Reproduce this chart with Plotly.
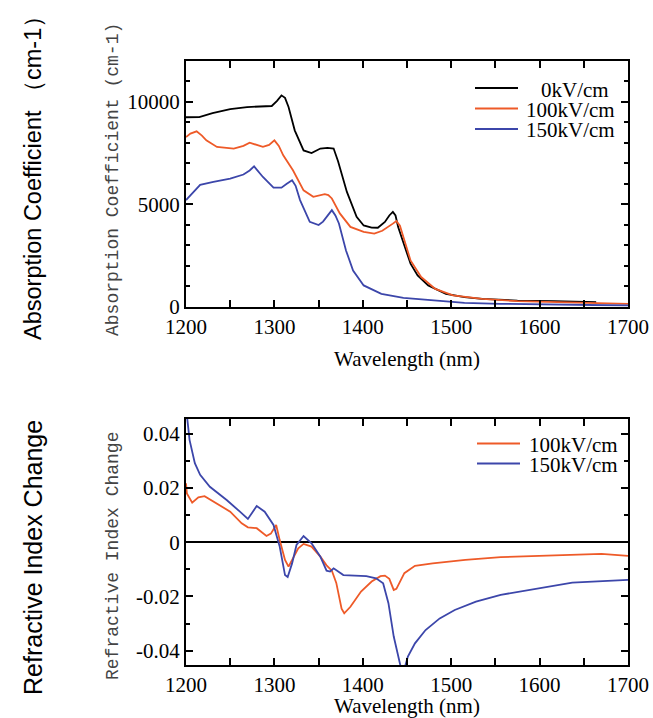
import plotly.graph_objects as go

# ---------------- data ----------------
series_names = ["0kV/cm", "100kV/cm", "150kV/cm"]
series_colors = ["#000000", "#EE5A28", "#3C46AA"]

# Absorption coefficient (cm-1)
wl_abs_0 = [1200, 1215, 1230, 1250, 1269, 1285, 1297, 1303, 1308, 1312, 1316, 1323, 1333,
            1342, 1352, 1360, 1367, 1372, 1382, 1393, 1401, 1410, 1417, 1425, 1430, 1434,
            1437, 1440, 1446, 1454, 1462, 1474, 1494, 1515, 1535, 1575, 1616, 1664]
abs_0 = [9250, 9260, 9450, 9650, 9750, 9780, 9800, 10050, 10320, 10200, 9750, 8610, 7630,
         7500, 7720, 7750, 7720, 7100, 5600, 4380, 3960, 3860, 3850, 4130, 4450, 4620,
         4450, 3880, 3150, 2090, 1520, 1030, 620, 460, 375, 290, 260, 210]

wl_abs_100 = [1200, 1205, 1212, 1218, 1223, 1235, 1254, 1265, 1272, 1280, 1287, 1294, 1300,
              1305, 1310, 1321, 1333, 1344, 1351, 1357, 1361, 1365, 1374, 1386, 1401, 1413,
              1422, 1429, 1434, 1438, 1442, 1446, 1454, 1466, 1482, 1502, 1535, 1575, 1616,
              1660, 1700]
abs_100 = [8280, 8450, 8560, 8350, 8120, 7800, 7720, 7850, 8010, 7900, 7800, 7900, 8120,
           7850, 7390, 6660, 5680, 5360, 5450, 5490, 5450, 5280, 4550, 3890, 3650, 3560,
           3700, 3880, 4050, 4180, 3950, 3390, 2250, 1440, 860, 540, 375, 260, 210, 170, 130]

wl_abs_150 = [1200, 1208, 1216, 1231, 1250, 1265, 1272, 1277, 1282, 1287, 1299, 1308, 1314,
              1320, 1324, 1329, 1340, 1350, 1355, 1359, 1365, 1369, 1373, 1381, 1389, 1401,
              1421, 1446, 1474, 1494, 1515, 1555, 1616, 1700]
abs_150 = [5200, 5550, 5950, 6090, 6250, 6450, 6650, 6850, 6600, 6330, 5810, 5810, 6000,
           6170, 5900, 5200, 4140, 3980, 4150, 4380, 4710, 4450, 4060, 2740, 1760, 1030,
           620, 420, 330, 260, 180, 130, 100, 50]

# Refractive index change
wl_ri_100 = [1200, 1201, 1207, 1214, 1221, 1231, 1250, 1263, 1270, 1280, 1291, 1296, 1302,
             1306, 1312, 1316, 1321, 1327, 1333, 1342, 1352, 1359, 1365, 1370, 1376, 1379,
             1386, 1398, 1410, 1420, 1425, 1430, 1435, 1438, 1447, 1459, 1479, 1516, 1556,
             1617, 1670, 1700]
ri_100 = [0.0218, 0.0180, 0.0146, 0.0166, 0.0170, 0.0150, 0.0113, 0.0070, 0.0055, 0.0052,
          0.0023, 0.0032, 0.0064, 0.0008, -0.0065, -0.0090, -0.0059, -0.0022, -0.0006,
          -0.0016, -0.0053, -0.0085, -0.0105, -0.0150, -0.0245, -0.0262, -0.0238, -0.0182,
          -0.0145, -0.0125, -0.0123, -0.0135, -0.0176, -0.0172, -0.0114, -0.0087, -0.0078,
          -0.0065, -0.0055, -0.0049, -0.0043, -0.0050]

wl_ri_150 = [1200, 1204, 1210, 1216, 1227, 1246, 1261, 1270, 1275, 1280, 1289, 1299, 1306,
             1312, 1315, 1320, 1325, 1333, 1342, 1352, 1359, 1363, 1367, 1378, 1404, 1415,
             1423, 1429, 1435, 1441, 1445, 1451, 1459, 1471, 1487, 1504, 1528, 1556, 1597,
             1637, 1700]
ri_150 = [0.0500, 0.0378, 0.0292, 0.0249, 0.0205, 0.0156, 0.0113, 0.0086, 0.0110, 0.0134,
          0.0113, 0.0064, -0.0016, -0.0121, -0.0128, -0.0078, -0.0010, 0.0023, -0.0004,
          -0.0053, -0.0105, -0.0108, -0.0096, -0.0121, -0.0125, -0.0133, -0.0151, -0.0225,
          -0.0348, -0.0440, -0.0490, -0.0422, -0.0373, -0.0324, -0.0281, -0.0250, -0.0219,
          -0.0194, -0.0170, -0.0149, -0.0139]

x_ticks = [1200, 1300, 1400, 1500, 1600, 1700]
abs_ticks = [0, 5000, 10000]
ri_ticks = [-0.04, -0.02, 0, 0.02, 0.04]
ri_tick_text = ["-0.04", "-0.02", "0", "0.02", "0.04"]

# ---------------- layout helpers ----------------
W, H = 653, 718
L, R, T, B = 186, 628, 61, 665
TOP_BOTTOM, BOT_TOP = 306.5, 419


def px(x):
    return (x - L) / (R - L)


def py(y):
    return (B - y) / (B - T)


SERIF = "Liberation Serif, Times New Roman, serif"
LW = 1.8

fig = go.Figure()
abs_data = [(wl_abs_0, abs_0), (wl_abs_100, abs_100), (wl_abs_150, abs_150)]
for (xs, ys), name, col in zip(abs_data, series_names, series_colors):
    fig.add_trace(go.Scatter(x=xs, y=ys, mode="lines", name=name, xaxis="x", yaxis="y",
                             line=dict(color=col, width=LW), showlegend=False))
ri_data = [(wl_ri_100, ri_100), (wl_ri_150, ri_150)]
for (xs, ys), name, col in zip(ri_data, series_names[1:], series_colors[1:]):
    fig.add_trace(go.Scatter(x=xs, y=ys, mode="lines", name=name, xaxis="x2", yaxis="y2",
                             line=dict(color=col, width=LW), showlegend=False))

axis_common = dict(showline=True, linecolor="black", linewidth=2, mirror="allticks",
                   ticks="inside", ticklen=7, tickwidth=1.5, tickcolor="black",
                   showgrid=False, tickfont=dict(family=SERIF, size=21, color="black"))

xa = dict(axis_common, range=[1200, 1700], tickvals=x_ticks, zeroline=False,
          minor=dict(ticks="inside", dtick=50, tick0=1200, ticklen=7, tickwidth=1.5,
                     tickcolor="black", showgrid=False),
          title=dict(text="Wavelength (nm)", font=dict(family=SERIF, size=21, color="black")))

fig.update_layout(
    width=W, height=H, margin=dict(l=L, r=W - R, t=T, b=H - B, autoexpand=False),
    plot_bgcolor="white", paper_bgcolor="white", showlegend=False,
    xaxis=dict(xa, domain=[0, 1], anchor="y", title_standoff=14),
    yaxis=dict(axis_common, domain=[py(TOP_BOTTOM), 1], anchor="x", range=[0, 12000],
               tickvals=abs_ticks, tickformat="d", zeroline=False,
               minor=dict(ticks="inside", dtick=1000, ticklen=4, tickwidth=1.5,
                          tickcolor="black", showgrid=False)),
    xaxis2=dict(xa, domain=[0, 1], anchor="y2", title_standoff=0),
    yaxis2=dict(axis_common, domain=[0, py(BOT_TOP)], anchor="x2", range=[-0.0453, 0.0455],
                tickvals=ri_ticks, ticktext=ri_tick_text, zeroline=True,
                zerolinecolor="black", zerolinewidth=2,
                minor=dict(ticks="inside", dtick=0.01, tick0=0, ticklen=4, tickwidth=1.5,
                           tickcolor="black", showgrid=False)),
)

# manual legends
shapes, annots = [], []
leg_rows_top = [88, 108.5, 129]
leg_rows_bot = [443.5, 463.5]
text_x = [539, 524, 524]
for row_y, name, col, tx in zip(leg_rows_top, series_names, series_colors, text_x):
    shapes.append(dict(type="line", xref="paper", yref="paper", x0=px(475), x1=px(518),
                       y0=py(row_y), y1=py(row_y), line=dict(color=col, width=LW)))
    annots.append(dict(xref="paper", yref="paper", x=px(tx), y=py(row_y + 1.5), text=name,
                       showarrow=False, xanchor="left", yanchor="middle",
                       font=dict(family=SERIF, size=21, color="black")))
for row_y, name, col in zip(leg_rows_bot, series_names[1:], series_colors[1:]):
    shapes.append(dict(type="line", xref="paper", yref="paper", x0=px(477), x1=px(520),
                       y0=py(row_y), y1=py(row_y), line=dict(color=col, width=LW)))
    annots.append(dict(xref="paper", yref="paper", x=px(527), y=py(row_y + 1.5), text=name,
                       showarrow=False, xanchor="left", yanchor="middle",
                       font=dict(family=SERIF, size=21, color="black")))

MONO = "Liberation Mono, Courier New, monospace"
SANS = "Liberation Sans, Arial, sans-serif"
side_titles = [
    (113, 180, "Absorption Coefficient (cm-1)", MONO, 18, "#444444"),
    (113, 556, "Refractive Index Change", MONO, 18, "#444444"),
    (33, 172, "Absorption Coefficient （cm-1）", SANS, 23.5, "black"),
    (33, 558, "Refractive Index Change", SANS, 25, "black"),
]
for x_, y_, txt, fam, sz, col in side_titles:
    annots.append(dict(xref="paper", yref="paper", x=px(x_), y=py(y_), text=txt,
                       textangle=-90, showarrow=False, xanchor="center", yanchor="middle",
                       font=dict(family=fam, size=sz, color=col)))
fig.update_layout(shapes=shapes, annotations=annots)

fig.write_html("out.html", config={"displayModeBar": False},
               post_script="document.body.style.margin='0';")
